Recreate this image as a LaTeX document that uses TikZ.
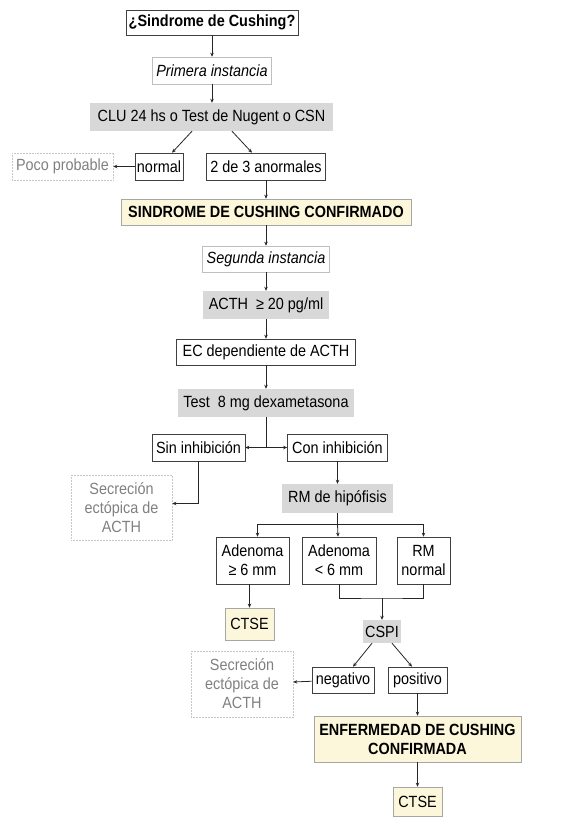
\documentclass[tikz,border=0pt]{standalone}
\usepackage{fontspec}
\setmainfont{Liberation Sans}[FakeStretch=0.89]
\usetikzlibrary{arrows.meta,calc}
\definecolor{boxgray}{RGB}{216,216,216}
\definecolor{cream}{RGB}{252,247,218}
\begin{document}
\begin{tikzpicture}[x=1pt,y=-1pt,
  every node/.style={font=\fontsize{16.2}{19}\selectfont, align=center, inner sep=0pt, rectangle},
  blk/.style={draw=black!75, line width=0.6pt, fill=white},
  lgt/.style={draw=black!25, line width=0.6pt, fill=white, font=\fontsize{16.2}{19}\selectfont\itshape},
  grf/.style={fill=boxgray},
  yel/.style={fill=cream, draw=black!35, line width=0.6pt},
  dim/.style={draw=black!22, line width=0.5pt, densely dotted, text=black!50},
  arr/.style={-{Stealth[length=4pt,width=3.5pt]}, line width=0.8pt, black!85},
  ln/.style={line width=0.8pt, black!85}]
\useasboundingbox (0,0) rectangle (579,818);

\node[blk, minimum width=172pt, minimum height=25pt, font=\fontsize{16.2}{19}\selectfont\bfseries] (q) at (212,22.5) {¿Sindrome de Cushing?};
\node[lgt, minimum width=119pt, minimum height=27pt] (p1) at (212,70.5) {Primera instancia};
\node[grf, minimum width=243pt, minimum height=28pt] (clu) at (211.5,117) {CLU 24 hs o Test de Nugent o CSN};
\node[blk, minimum width=48pt, minimum height=27pt] (normal) at (159,166.5) {normal};
\node[dim, minimum width=101pt, minimum height=27pt] (poco) at (62.5,166.5) {Poco probable};
\node[blk, minimum width=119pt, minimum height=27pt] (dos) at (266,166.5) {2 de 3 anormales};
\node[yel, minimum width=290pt, minimum height=26pt, font=\fontsize{16.2}{19}\selectfont\bfseries] (scc) at (266,212) {SINDROME DE CUSHING CONFIRMADO};
\node[lgt, minimum width=127pt, minimum height=26pt] (p2) at (266,259) {Segunda instancia};
\node[grf, minimum width=126pt, minimum height=28pt] (acth) at (266,305) {ACTH \ ≥ 20 pg/ml};
\node[blk, minimum width=179pt, minimum height=26pt] (ec) at (266,352) {EC dependiente de ACTH};
\node[grf, minimum width=176pt, minimum height=28pt] (test) at (266,403) {Test \ 8 mg dexametasona};
\node[blk, minimum width=93pt, minimum height=27pt] (sin) at (198.5,447.5) {Sin inhibición};
\node[blk, minimum width=100pt, minimum height=27pt] (con) at (337.5,447.5) {Con inhibición};
\node[dim, minimum width=101pt, minimum height=65pt] (sec1) at (121.5,507.5) {Secreción\\ectópica de\\ACTH};
\node[grf, minimum width=111pt, minimum height=29pt] (rm) at (337.5,498.5) {RM de hipófisis};
\node[blk, minimum width=73pt, minimum height=47pt] (ad1) at (252.5,560.5) {Adenoma\\≥ 6 mm};
\node[blk, minimum width=74pt, minimum height=47pt] (ad2) at (339,560.5) {Adenoma\\< 6 mm};
\node[blk, minimum width=53pt, minimum height=47pt] (rmn) at (423.5,560.5) {RM\\normal};
\node[yel, minimum width=49pt, minimum height=32pt] (ctse1) at (249.5,624) {CTSE};
\node[grf, minimum width=38pt, minimum height=23pt] (cspi) at (382,631.5) {CSPI};
\node[blk, minimum width=62pt, minimum height=26pt] (neg) at (343,680) {negativo};
\node[blk, minimum width=59pt, minimum height=26pt] (pos) at (417.5,680) {positivo};
\node[dim, minimum width=102pt, minimum height=66pt] (sec2) at (242,684) {Secreción\\ectópica de\\ACTH};
\node[yel, minimum width=207pt, minimum height=46pt, font=\fontsize{16.2}{19}\selectfont\bfseries] (enf) at (417.5,739) {ENFERMEDAD DE CUSHING\\CONFIRMADA};
\node[yel, minimum width=49pt, minimum height=29pt] (ctse2) at (417.5,801.5) {CTSE};

\draw[arr] (q) -- (p1);
\draw[arr] (p1) -- (clu.north -| p1);
\draw[arr] ($(clu.south)+(-19.5,0)$) -- ($(normal.north)+(13,0)$);
\draw[arr] ($(clu.south)+(20.5,0)$) -- ($(dos.north)+(-14,0)$);
\draw[arr] (normal) -- (poco);
\draw[arr] (dos) -- (scc);
\draw[arr] (scc) -- (p2);
\draw[arr] (p2) -- (acth);
\draw[arr] (acth) -- (ec);
\draw[arr] (ec) -- (test);
\coordinate (j) at (266,447.5);
\draw[ln] (test) -- (j);
\draw[arr] (j) -- (sin);
\draw[arr] (j) -- (con);
\draw[arr] (sin.south) |- ($(sec1.east)+(0,-4)$);
\draw[arr] (con) -- (rm);
\coordinate (bj) at (337.5,524);
\draw[ln] (rm) -- (bj);
\draw[arr] (bj) -| ($(ad1.north)+(5,0)$);
\draw[arr] (bj) -- (ad2);
\draw[arr] (bj) -| (rmn.north);
\draw[arr] (ctse1.north |- ad1.south) -- (ctse1);
\coordinate (cj) at (382,598);
\draw[ln] (ad2.south) |- (cj) -| (rmn.south);
\draw[arr] (cj) -- (cspi);
\draw[arr] ($(cspi.south)+(-10,0)$) -- ($(neg.north)+(10,0)$);
\draw[arr] ($(cspi.south)+(10,0)$) -- ($(pos.north)+(-5.5,0)$);
\draw[arr] (neg) -- (sec2);
\draw[arr] (pos) -- (enf);
\draw[arr] (enf) -- (ctse2);
\end{tikzpicture}
\end{document}
